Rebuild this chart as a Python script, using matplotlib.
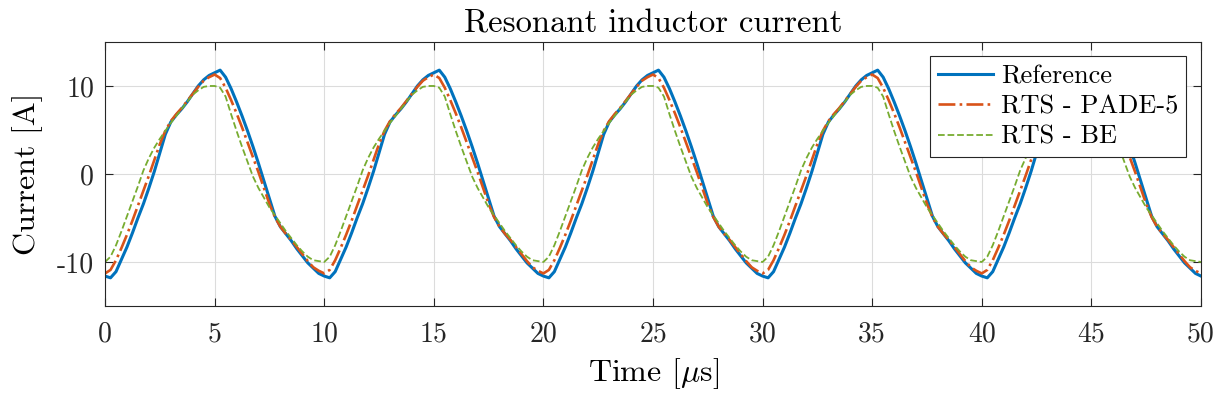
import numpy as np
import matplotlib
matplotlib.use('Agg')
import matplotlib.pyplot as plt

PERIOD = 10.0
STEP = 0.25
N_PERIODS = 5

reference = [-11.6, -11.8, -11.1, -9.7, -8.3, -6.7, -5.0, -3.4, -1.6, 0.3,
             2.4, 4.5, 5.9, 6.7, 7.4, 8.2, 9.1, 10.0, 10.7, 11.2,
             11.5, 11.8, 11.0, 9.7, 8.2, 6.6, 4.9, 3.1, 1.2, -0.8,
             -2.8, -4.8, -6.0, -6.8, -7.6, -8.5, -9.3, -10.1, -10.7, -11.3]

pade5 = [-11.3, -10.9, -9.8, -8.4, -6.9, -5.3, -3.6, -1.9, -0.2, 1.6,
         3.4, 4.9, 6.0, 6.8, 7.5, 8.3, 9.1, 9.9, 10.6, 11.0,
         11.3, 10.9, 9.8, 8.4, 6.9, 5.3, 3.6, 1.9, 0.2, -1.6,
         -3.4, -4.9, -6.0, -6.8, -7.5, -8.3, -9.1, -9.9, -10.6, -11.0]

be = [-10.0, -9.4, -8.1, -6.5, -4.8, -3.1, -1.4, 0.4, 1.8, 3.0,
      4.0, 4.9, 5.8, 6.6, 7.4, 8.2, 9.0, 9.5, 9.9, 10.0,
      10.0, 9.8, 8.8, 6.8, 4.9, 3.1, 1.4, -0.3, -1.6, -2.7,
      -3.8, -4.7, -5.6, -6.5, -7.3, -8.1, -8.8, -9.4, -9.8, -9.9]

labels = ['Reference', 'RTS - PADE-5', 'RTS - BE']
colors = ['#0072BD', '#D95319', '#77AC30']


def periodic(vals):
    v = np.tile(vals, N_PERIODS)
    return np.append(v, vals[0])


t = np.arange(len(reference) * N_PERIODS + 1) * STEP

plt.rcParams['font.family'] = 'cmr10'
plt.rcParams['mathtext.fontset'] = 'cm'
plt.rcParams['axes.unicode_minus'] = False
plt.rcParams['axes.formatter.use_mathtext'] = False

fig = plt.figure(figsize=(12.2, 3.96), dpi=100)
ax = fig.add_axes([0.0861, 0.2273, 0.8983, 0.6667])

ax.plot(t, periodic(reference), '-', color=colors[0], lw=2.2, label=labels[0])
ax.plot(t, periodic(pade5), '-.', color=colors[1], lw=1.9, label=labels[1])
ax.plot(t, periodic(be), '--', color=colors[2], lw=1.3, label=labels[2])

ax.set_xlim(0, 50)
ax.set_ylim(-15, 15)
ax.set_xticks(np.arange(0, 51, 5))
ax.set_yticks([-10, 0, 10])
ax.tick_params(direction='in', top=True, right=True, labelsize=20,
               length=6, width=0.8, colors='#262626')
ax.tick_params(axis='x', pad=11)
ax.tick_params(axis='y', pad=8)
for s in ax.spines.values():
    s.set_color('#262626')
    s.set_linewidth(0.8)
ax.grid(True, color='#dcdcdc', lw=0.8)

ax.set_xlabel(r'Time [$\mu$s]', fontsize=23, labelpad=6)
ax.set_ylabel('Current [A]', fontsize=23, labelpad=10)
ax.set_title('Resonant inductor current', fontsize=23.5, pad=7)

leg = ax.legend(loc='upper right', fontsize=19, fancybox=False, framealpha=1,
                edgecolor='#262626', borderaxespad=0.55, handlelength=2.1,
                labelspacing=0.25, borderpad=0.3, handletextpad=0.3)
leg.get_frame().set_linewidth(0.8)

plt.savefig('out.png', dpi=100)
plt.close()
